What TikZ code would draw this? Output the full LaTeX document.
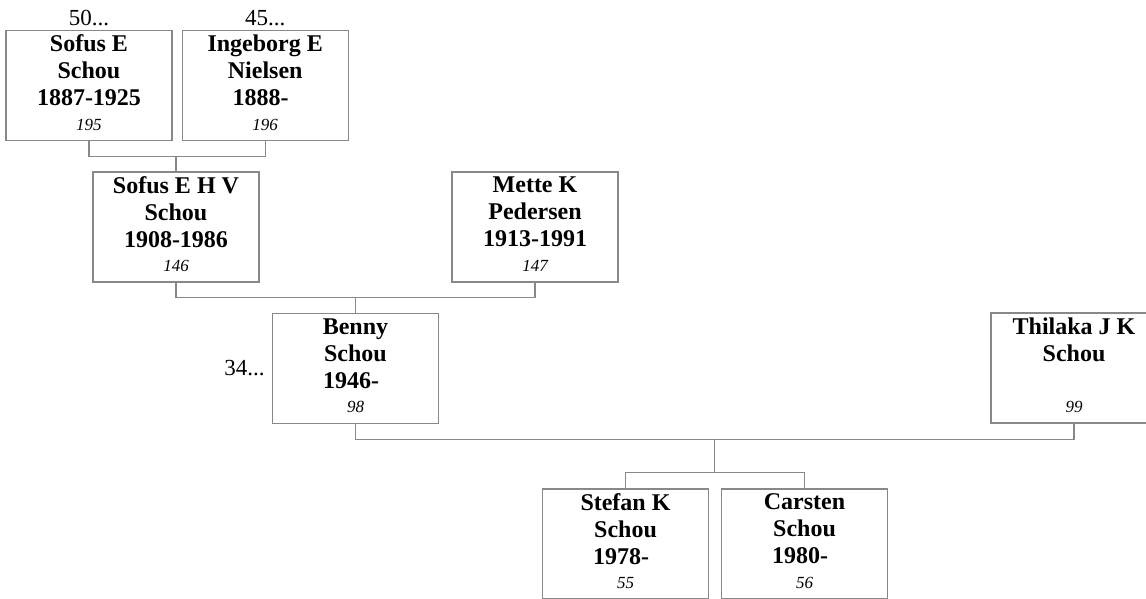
\documentclass[tikz,border=0pt]{standalone}
\usepackage{fontspec}
\setmainfont{Liberation Serif}
\usepackage{tikz}
\usetikzlibrary{positioning,calc}
\definecolor{boxgray}{RGB}{136,136,136}
\newcommand{\refno}[1]{{\normalfont\itshape\fontsize{17}{26}\selectfont #1\rule[-5.5pt]{0pt}{0pt}}}
\newcommand{\born}[1]{#1-\kern9pt}

\begin{document}
\begin{tikzpicture}[x=1pt, y=-1pt,
                    person/.style={draw=boxgray, line width=1.2pt, fill=white,
                                   minimum width=166pt, minimum height=110pt, inner sep=0pt,
                                   align=center, font=\bfseries\fontsize{24}{27}\selectfont},
                    link/.style={draw=boxgray, line width=1.2pt},
                    more/.style={inner sep=0pt, font=\fontsize{23}{25}\selectfont}]
                \useasboundingbox (0,0) rectangle (1146,598);
                \node[person] (sofusE) at (89,85.5) {Sofus E\\Schou\\1887-1925\\[-2.5pt]\refno{195}};
                \node[person, right=9pt of sofusE] (ingeborg) {Ingeborg E\\Nielsen\\\born{1888}\\[-2.5pt]\refno{196}};
                \node[person] (sofusEHV) at (176,227) {Sofus E H V\\Schou\\1908-1986\\[-2.5pt]\refno{146}};
                \node[person] (mette) at (535,227) {Mette K\\Pedersen\\1913-1991\\[-2.5pt]\refno{147}};
                \node[person] (benny) at (355.5,368.5) {Benny\\Schou\\\born{1946}\\[-2.5pt]\refno{98}};
                \node[person] (thilaka) at (1074,368) {Thilaka J K\\Schou\\\mbox{}\\[-2.5pt]\refno{99}};
                \node[person] (stefan) at (625.5,544) {Stefan K\\Schou\\\born{1978}\\[-2.5pt]\refno{55}};
                \node[person, right=11.8pt of stefan] (carsten) {Carsten\\Schou\\\born{1980}\\[-2.5pt]\refno{56}};

                \node[more, above=4pt of sofusE] (moreA) {50...};
                \node[more, above=4pt of ingeborg] (moreB) {45...};
                \node[more, left=7pt of benny] (moreC) {34...};

                \draw[link] (sofusE.south) -- ++(0,15) coordinate (u1) -| (ingeborg.south);
                \draw[link] (sofusEHV.north) -- (sofusEHV.north |- u1);
                \draw[link] (sofusEHV.south) -- ++(0,15) coordinate (u2) -| (mette.south);
                \draw[link] (benny.north) -- (benny.north |- u2);
                \draw[link] (benny.south) -- ++(0,15) coordinate (u3) -| (thilaka.south);
                \draw[link] (stefan.north) -- ++(0,-16) coordinate (k3) -| (carsten.north);
                \coordinate (m3) at ($(u3)!0.5!(thilaka.south |- u3)$);
                \draw[link] (m3) -- (m3 |- k3);
            \end{tikzpicture}
\end{document}
